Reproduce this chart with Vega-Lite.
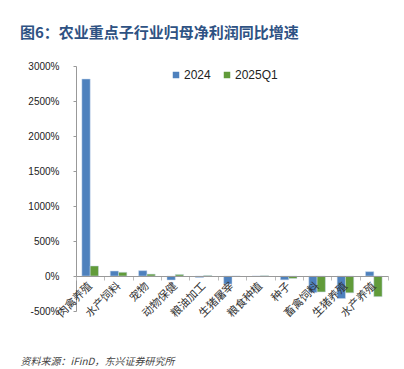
{
  "$schema": "https://vega.github.io/schema/vega-lite/v6.json",
  "width": 312,
  "height": 245,
  "autosize": {"type": "none"},
  "padding": {"left": 76, "top": 66, "right": 16, "bottom": 58},
  "background": "white",
  "title": {
    "text": "图6：农业重点子行业归母净利润同比增速",
    "anchor": "start",
    "frame": "group",
    "dx": -56,
    "offset": 20,
    "font": "Noto Sans CJK SC",
    "fontSize": 15,
    "fontWeight": "bold",
    "color": "#2E5283"
  },
  "data": {
    "values": [
      {"industry": "肉禽养殖", "series": "2024", "value": 2814},
      {"industry": "肉禽养殖", "series": "2025Q1", "value": 143},
      {"industry": "水产饲料", "series": "2024", "value": 71},
      {"industry": "水产饲料", "series": "2025Q1", "value": 53},
      {"industry": "宠物", "series": "2024", "value": 76},
      {"industry": "宠物", "series": "2025Q1", "value": 27},
      {"industry": "动物保健", "series": "2024", "value": -57},
      {"industry": "动物保健", "series": "2025Q1", "value": 22},
      {"industry": "粮油加工", "series": "2024", "value": -20},
      {"industry": "粮油加工", "series": "2025Q1", "value": 8},
      {"industry": "生猪屠宰", "series": "2024", "value": -115},
      {"industry": "生猪屠宰", "series": "2025Q1", "value": -3},
      {"industry": "粮食种植", "series": "2024", "value": -2},
      {"industry": "粮食种植", "series": "2025Q1", "value": 4},
      {"industry": "种子", "series": "2024", "value": -55},
      {"industry": "种子", "series": "2025Q1", "value": -35},
      {"industry": "畜禽饲料", "series": "2024", "value": -235},
      {"industry": "畜禽饲料", "series": "2025Q1", "value": -228},
      {"industry": "生猪养殖", "series": "2024", "value": -322},
      {"industry": "生猪养殖", "series": "2025Q1", "value": -240},
      {"industry": "水产养殖", "series": "2024", "value": 62},
      {"industry": "水产养殖", "series": "2025Q1", "value": -295}
    ]
  },
  "mark": {"type": "bar", "stroke": "#C9D9EC", "strokeWidth": 0.5},
  "encoding": {
    "x": {
      "field": "industry",
      "type": "nominal",
      "sort": null,
      "scale": {"paddingInner": 0, "paddingOuter": 0},
      "axis": {
        "title": "资料来源：iFinD，东兴证券研究所",
        "titleFont": "Noto Sans CJK SC",
        "titleFontSize": 10,
        "titleFontStyle": "italic",
        "titleFontWeight": "normal",
        "titleColor": "#444444",
        "titleAnchor": "start",
        "titleAlign": "left",
        "titleBaseline": "middle",
        "titleX": -56,
        "titleY": 85,
        "offset": -35,
        "zindex": 1,
        "labelAngle": -45,
        "labelAlign": "right",
        "labelBaseline": "middle",
        "labelPadding": 4,
        "labelFont": "Noto Sans CJK SC",
        "labelFontSize": 11,
        "labelColor": "#333333",
        "tickBand": "extent",
        "tickSize": 4,
        "tickColor": "#BBBBBB",
        "domainColor": "#999999",
        "grid": false
      }
    },
    "xOffset": {
      "field": "series",
      "type": "nominal",
      "scale": {"paddingInner": 0, "paddingOuter": 0.71}
    },
    "y": {
      "field": "value",
      "type": "quantitative",
      "scale": {"domain": [-500, 3000], "nice": false, "zero": true},
      "axis": {
        "title": null,
        "values": [-500, 0, 500, 1000, 1500, 2000, 2500, 3000],
        "labelExpr": "datum.value + '%'",
        "labelFont": "Liberation Sans",
        "labelFontSize": 10,
        "labelColor": "#222222",
        "labelPadding": 14,
        "tickSize": 3,
        "tickColor": "#999999",
        "domainColor": "#999999",
        "grid": false
      }
    },
    "color": {
      "field": "series",
      "type": "nominal",
      "scale": {"domain": ["2024", "2025Q1"], "range": ["#4E81BD", "#619B3A"]},
      "legend": {
        "title": null,
        "orient": "none",
        "direction": "horizontal",
        "legendX": 94,
        "legendY": 3,
        "symbolType": "square",
        "symbolSize": 42,
        "symbolStrokeWidth": 0,
        "labelFont": "Liberation Sans",
        "labelFontSize": 12,
        "labelColor": "#222222",
        "columnPadding": 10,
        "labelOffset": 2
      }
    }
  },
  "config": {"view": {"stroke": null}}
}
